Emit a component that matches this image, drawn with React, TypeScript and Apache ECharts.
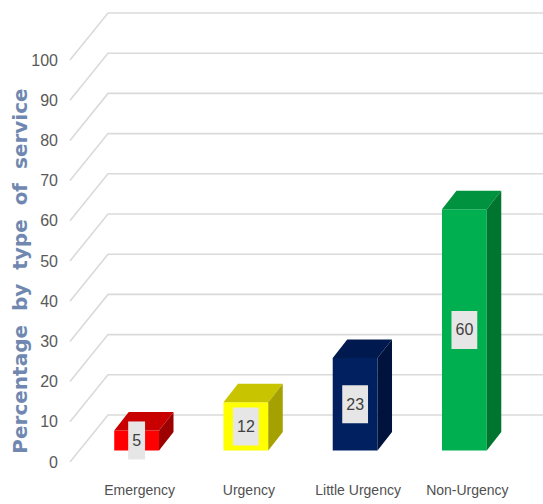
import React, { useEffect, useRef } from "react";
import * as echarts from "echarts";

const categories = ["Emergency", "Urgency", "Little Urgency", "Non-Urgency"];
const values = [5, 12, 23, 60];
const frontColors = ["#ff0000", "#ffff00", "#002060", "#00b050"];
const topColors = ["#c80000", "#c9c400", "#001a4f", "#00923f"];
const sideColors = ["#9c0000", "#a5a100", "#00133c", "#00752f"];
const yTicks = [0, 10, 20, 30, 40, 50, 60, 70, 80, 90, 100];
const yTitle = "Percentage  by  type  of  service";

export default function App() {
  const ref = useRef<HTMLDivElement>(null);
  useEffect(() => {
    if (!ref.current) return;
    const chart = echarts.init(ref.current, null, { renderer: "svg" });
    const labelFont = '"Liberation Sans Narrow", "Liberation Sans", Arial, sans-serif';
    chart.setOption({
      animation: false,
      backgroundColor: "#ffffff",
      grid: { left: 73, top: 60, width: 437, height: 402 },
      xAxis: {
        type: "category",
        data: categories,
        axisLine: { show: false },
        axisTick: { show: false },
        splitLine: { show: false },
        axisLabel: {
          interval: 0,
          hideOverlap: false,
          margin: 21,
          padding: [0, 0, 0, 24],
          color: "#505050",
          fontFamily: '"Liberation Sans", Arial, sans-serif',
          fontSize: 14,
        },
      },
      yAxis: {
        type: "value",
        min: 0,
        max: 100,
        interval: 10,
        axisLine: { show: false },
        axisTick: { show: false },
        splitLine: { show: false },
        axisLabel: {
          margin: 15,
          color: "#595959",
          fontFamily: labelFont,
          fontSize: 16,
        },
      },
      graphic: [
        {
          type: "text",
          x: 20,
          y: 271,
          rotation: Math.PI / 2,
          style: {
            text: yTitle,
            fill: "#7088b0",
            font: 'bold 20px "DejaVu Sans", sans-serif',
            align: "center",
            verticalAlign: "middle",
          },
        },
      ],
      series: [
        {
          type: "custom",
          silent: true,
          z: 1,
          data: yTicks.map((v) => [0, v]),
          renderItem: (params: any, api: any) => {
            const v = api.value(1);
            const y = api.coord([0, v])[1];
            const x0 = params.coordSys.x - 3;
            return {
              type: "polyline",
              shape: {
                points: [
                  [x0, y],
                  [x0 + 38, y - 47],
                  [api.getWidth(), y - 47],
                ],
              },
              style: { stroke: "#dadada", lineWidth: 1.6, fill: "none" },
            };
          },
        },
        {
          type: "custom",
          z: 2,
          data: values.map((v, i) => [i, v]),
          renderItem: (params: any, api: any) => {
            const i = api.value(0);
            const v = api.value(1);
            const top = api.coord([i, v]);
            const base = api.coord([i, 0]);
            const bw = api.size([1, 0])[0] * 0.41;
            const ox = 9;
            const oy = -11.5;
            const dx = 14.5;
            const dy = -18.5;
            const x0 = top[0] - bw / 2 + ox;
            const x1 = x0 + bw;
            const yT = top[1] + oy;
            const yB = base[1] + oy;
            return {
              type: "group",
              children: [
                {
                  type: "polygon",
                  shape: { points: [[x0, yT], [x1, yT], [x1, yB], [x0, yB]] },
                  style: { fill: frontColors[i] },
                },
                {
                  type: "polygon",
                  shape: {
                    points: [[x0, yT], [x1, yT], [x1 + dx, yT + dy], [x0 + dx, yT + dy]],
                  },
                  style: { fill: topColors[i] },
                },
                {
                  type: "polygon",
                  shape: {
                    points: [[x1, yT], [x1 + dx, yT + dy], [x1 + dx, yB + dy], [x1, yB]],
                  },
                  style: { fill: sideColors[i] },
                },
                {
                  type: "text",
                  z2: 10,
                  x: (x0 + x1) / 2,
                  y: (yT + yB) / 2,
                  style: {
                    text: String(v),
                    align: "center",
                    verticalAlign: "middle",
                    fill: "#404040",
                    font: '16px ' + labelFont,
                    backgroundColor: "#e6e6e6",
                    padding: [11, 4],
                  },
                },
              ],
            };
          },
        },
      ],
    });
    return () => chart.dispose();
  }, []);
  return (
    <div
      ref={ref}
      style={{ position: "fixed", left: 0, top: 0, width: 543, height: 504 }}
    />
  );
}
